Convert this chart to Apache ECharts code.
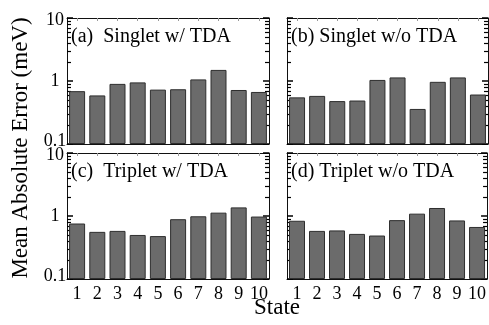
<!DOCTYPE html>
<html>
<head>
<meta charset="utf-8">
<script src="https://cdn.jsdelivr.net/npm/echarts@6/dist/echarts.min.js"></script>
<style>
  html, body { margin: 0; padding: 0; background: #fff; }
  #chart { width: 489px; height: 325px; }
</style>
</head>
<body>
<div id="chart"></div>
<script>
// Excited states on the x axis
const states = ['1', '2', '3', '4', '5', '6', '7', '8', '9', '10'];

// Mean absolute error (meV) per state
const singletTDA   = [0.69, 0.59, 0.90, 0.95, 0.73, 0.74, 1.06, 1.50, 0.72, 0.67];
const singletNoTDA = [0.55, 0.58, 0.48, 0.49, 1.04, 1.14, 0.36, 0.97, 1.14, 0.61];
const tripletTDA   = [0.76, 0.56, 0.58, 0.50, 0.48, 0.89, 0.99, 1.13, 1.37, 0.98];
const tripletNoTDA = [0.84, 0.58, 0.59, 0.52, 0.49, 0.86, 1.09, 1.34, 0.85, 0.67];

const panelTitles = ['(a)  Singlet w/ TDA', '(b) Singlet w/o TDA', '(c)  Triplet w/ TDA', '(d) Triplet w/o TDA'];
const panelData = [singletTDA, singletNoTDA, tripletTDA, tripletNoTDA];

const yMin = 0.1, yMax = 10;
const FONT = 'Liberation Serif';

// Minor tick values 2..9 within each decade of the log axis
const minorTicks = [];
for (let base = yMin; base < yMax * 0.999; base *= 10) {
  for (let k = 2; k <= 9; k++) minorTicks.push(+(base * k).toPrecision(3));
}

const panels = [
  { left: 67,  top: 18,  width: 202, height: 126, showY: true,  showX: false },
  { left: 287, top: 18,  width: 201, height: 126, showY: false, showX: false },
  { left: 67,  top: 153, width: 202, height: 126, showY: true,  showX: true },
  { left: 287, top: 153, width: 201, height: 126, showY: false, showX: true }
];

const grid = [], xAxis = [], yAxis = [], series = [], graphic = [];
const lineStyle = { color: '#111', width: 1 };

panels.forEach((p, i) => {
  grid.push({ left: p.left, top: p.top, width: p.width, height: p.height, containLabel: false });

  const xBase = {
    type: 'category', gridIndex: i, data: states,
    axisLine: { show: true, onZero: false, lineStyle },
    axisTick: { show: true, inside: true, alignWithLabel: true, length: 3, lineStyle: { color: '#999' } },
    splitLine: { show: false }
  };
  xAxis.push(Object.assign({}, xBase, {
    position: 'bottom',
    axisLabel: { show: p.showX, fontFamily: FONT, fontSize: 18, color: '#000', margin: 6, interval: 0 }
  }));
  xAxis.push(Object.assign({}, xBase, { position: 'top', axisLabel: { show: false } }));

  const logAxis = (position, labels) => ({
    type: 'log', logBase: 10, gridIndex: i, min: yMin, max: yMax, startValue: yMin,
    position,
    axisLine: { show: true, onZero: false, lineStyle },
    axisTick: { show: true, inside: true, length: 6, lineStyle: { color: '#000', width: 1.5 } },
    splitLine: { show: false },
    axisLabel: {
      show: labels, fontFamily: FONT, fontSize: 18, color: '#000', align: 'center', margin: 12,
      formatter: v => {
        const s = v < 1 ? String(+v.toFixed(1)) : String(Math.round(v));
        if (v <= yMin * 1.0001) return '{lo|' + s + '}';
        if (v >= yMax * 0.9999) return '{hi|' + s + '}';
        return s;
      },
      rich: {
        lo: { fontFamily: FONT, fontSize: 18, color: '#000', padding: [0, 0, 6, 0] },
        hi: { fontFamily: FONT, fontSize: 18, color: '#000', padding: [4, 0, 0, 0] }
      }
    }
  });
  // Same log scale, drawing only the short minor ticks
  const minorAxis = position => ({
    type: 'log', logBase: 10, gridIndex: i, min: yMin, max: yMax, position,
    axisLine: { show: false, onZero: false },
    axisLabel: { show: false },
    splitLine: { show: false },
    axisTick: { show: true, inside: true, length: 4, customValues: minorTicks, lineStyle: { color: '#000', width: 1.2 } }
  });

  const logIndex = yAxis.length;
  yAxis.push(logAxis('left', p.showY));
  yAxis.push(minorAxis('left'));
  yAxis.push(logAxis('right', false));
  yAxis.push(minorAxis('right'));

  series.push({
    type: 'bar',
    xAxisIndex: i * 2,
    yAxisIndex: logIndex,
    data: panelData[i],
    barWidth: 16,
    itemStyle: { color: '#6b6b6b', borderColor: '#2e2e2e', borderWidth: 1 },
    silent: true
  });

  graphic.push({
    type: 'text', left: p.left + 4, top: p.top + 9,
    style: { text: panelTitles[i], fontFamily: FONT, fontSize: 20, fill: '#000' }
  });
});

// Shared axis titles
graphic.push({
  type: 'text', x: 21, y: 148, rotation: Math.PI / 2,
  style: { text: 'Mean Absolute Error (meV)', fontFamily: FONT, fontSize: 23, fill: '#000',
           textAlign: 'center', textVerticalAlign: 'middle' }
});
graphic.push({
  type: 'text', x: 277, y: 308,
  style: { text: 'State', fontFamily: FONT, fontSize: 23, fill: '#000',
           textAlign: 'center', textVerticalAlign: 'middle' }
});

const chart = echarts.init(document.getElementById('chart'), null, { renderer: 'canvas' });
chart.setOption({
  animation: false,
  backgroundColor: '#fff',
  grid, xAxis, yAxis, series, graphic
});
</script>
</body>
</html>
